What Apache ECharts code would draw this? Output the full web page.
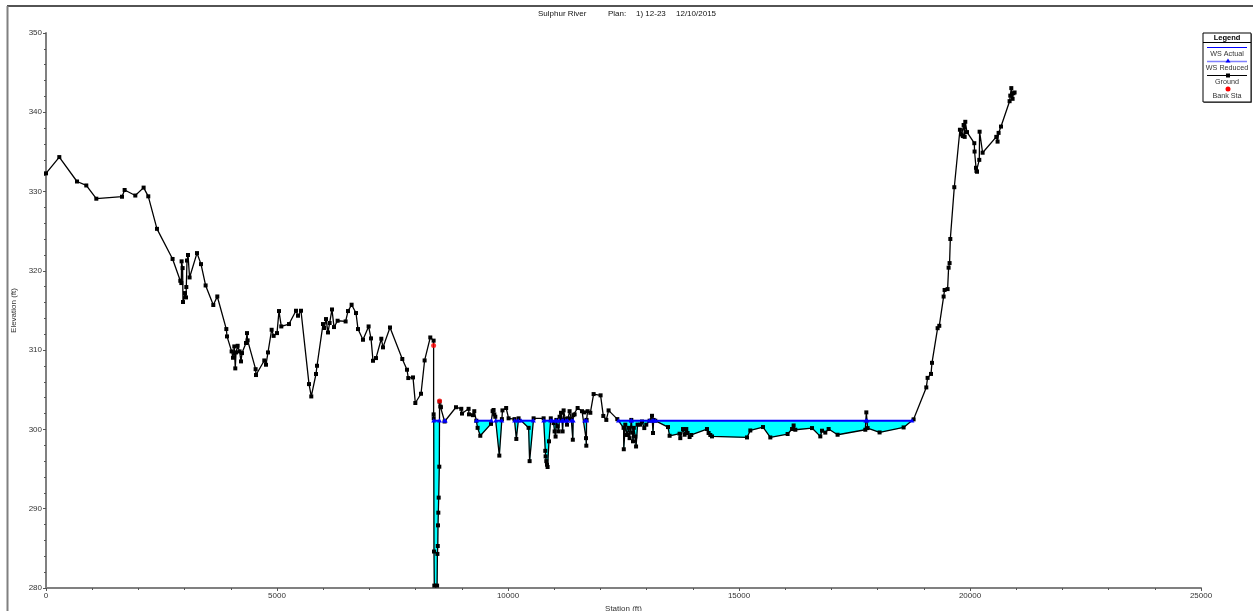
<!DOCTYPE html>
<html>
<head>
<meta charset="utf-8">
<script src="https://cdn.jsdelivr.net/npm/echarts@6/dist/echarts.min.js"></script>
<style>
  html, body { margin: 0; padding: 0; background: #ffffff; }
  #chart { width: 1253px; height: 611px; }
</style>
</head>
<body>
<div id="chart"></div>
<script>
// Cross section: station (ft) and ground elevation (ft)
const groundStation = [
  0, 288, 671, 872, 1089, 1645, 1702, 1933, 2113, 2214,
  2402, 2740, 2907, 2929, 2935, 2957, 2965, 3009, 3030, 3037,
  3052, 3074, 3108, 3268, 3355, 3455, 3621, 3708, 3903, 3918,
  4018, 4048, 4076, 4097, 4113, 4148, 4190, 4221, 4242, 4329,
  4351, 4364, 4537, 4545, 4725, 4762, 4805, 4884, 4927, 5000,
  5043, 5093, 5260, 5411, 5455, 5519, 5693, 5742, 5844, 5866,
  5996, 6024, 6061, 6104, 6139, 6190, 6234, 6312, 6485, 6537,
  6615, 6710, 6753, 6861, 6983, 7035, 7078, 7143, 7258, 7294,
  7446, 7712, 7814, 7842, 7944, 7994, 8117, 8195, 8318, 8390,
  8390, 8392, 8398, 8405, 8465, 8472, 8480, 8485, 8492, 8500,
  8513, 8519, 8535, 8548, 8628, 8874, 8989, 9004, 9147, 9156,
  9242, 9270, 9314, 9342, 9400, 9632, 9667, 9688, 9704, 9725,
  9812, 9868, 9880, 9960, 10013, 10140, 10180, 10229, 10446, 10468,
  10554, 10771, 10807, 10814, 10829, 10844, 10857, 10887, 10926, 10987,
  11009, 11030, 11046, 11074, 11095, 11117, 11147, 11169, 11182, 11204,
  11240, 11277, 11299, 11333, 11370, 11403, 11413, 11442, 11507, 11602,
  11645, 11688, 11695, 11701, 11723, 11782, 11853, 12004, 12063, 12128,
  12177, 12366, 12502, 12506, 12539, 12576, 12610, 12632, 12669, 12690,
  12706, 12723, 12755, 12772, 12805, 12864, 12900, 12950, 12993, 13065,
  13117, 13139, 13152, 13188, 13463, 13498, 13714, 13729, 13788, 13823,
  13859, 13887, 13931, 13967, 14307, 14342, 14379, 14416, 15173, 15245,
  15520, 15678, 16052, 16148, 16182, 16219, 16580, 16760, 16796, 16868,
  16940, 17134, 17734, 17756, 17784, 18043, 18563, 18779, 19054, 19082,
  19156, 19177, 19299, 19335, 19429, 19450, 19515, 19537, 19558, 19574,
  19660, 19782, 19820, 19845, 19862, 19885, 19898, 19935, 20093, 20099,
  20130, 20140, 20152, 20201, 20208, 20273, 20569, 20597, 20619, 20671,
  20857, 20872, 20894, 20922, 20940, 20965
];
const groundElev = [
  332.3, 334.35, 331.27, 330.77, 329.1, 329.35, 330.2, 329.5, 330.5, 329.4,
  325.3, 321.5, 318.75, 318.46, 321.2, 320.35, 316.07, 317.2, 316.65, 317.96,
  321.3, 322.0, 319.17, 322.24, 320.85, 318.16, 315.69, 316.77, 312.66, 311.73,
  309.84, 309.04, 310.47, 307.7, 309.71, 310.55, 309.84, 308.58, 309.63, 310.9,
  312.15, 311.23, 307.6, 306.86, 308.7, 308.16, 309.71, 312.57, 311.8, 312.15,
  314.93, 312.99, 313.29, 314.97, 314.34, 314.97, 305.72, 304.16, 306.99, 308.03,
  313.29, 312.79, 313.92, 312.23, 313.42, 315.13, 312.91, 313.71, 313.62, 314.93,
  315.73, 314.68, 312.66, 311.31, 312.99, 311.48, 308.66, 309.0, 311.44, 310.35,
  312.86, 308.88, 307.53, 306.48, 306.56, 303.33, 304.5, 308.7, 311.6, 311.2,
  301.9, 301.4, 284.6, 280.3, 280.3, 284.3, 285.3, 287.9, 289.5, 291.4,
  295.3, 303.5, 302.9, 302.8, 301.0, 302.8, 302.6, 302.0, 302.6, 301.9,
  301.8, 302.3, 301.1, 300.2, 299.2, 300.7, 302.3, 302.45, 301.9, 301.6,
  296.7, 301.3, 302.4, 302.7, 301.4, 301.3, 298.8, 301.4, 300.2, 296.0,
  301.4, 301.4, 297.3, 296.6, 296.0, 295.55, 295.26, 298.5, 301.4, 300.8,
  299.75, 299.1, 301.2, 300.4, 299.75, 301.6, 302.1, 301.2, 299.75, 302.4,
  301.3, 300.6, 301.4, 302.3, 301.3, 298.7, 301.8, 301.9, 302.7, 302.3,
  302.15, 298.9, 297.95, 301.2, 302.3, 302.1, 304.46, 304.3, 301.7, 301.2,
  302.4, 301.3, 300.2, 297.5, 300.6, 299.3, 300.2, 298.9, 301.2, 299.6,
  298.5, 300.2, 299.1, 297.85, 300.6, 300.6, 301.0, 300.17, 300.6, 301.1,
  301.72, 299.55, 301.2, 301.1, 300.3, 299.2, 299.46, 298.9, 300.05, 299.33,
  300.05, 299.55, 299.04, 299.3, 300.05, 299.55, 299.3, 299.12, 298.99, 299.87,
  300.3, 298.99, 299.42, 300.05, 300.5, 299.96, 300.17, 299.12, 299.84, 299.6,
  300.05, 299.33, 299.96, 302.15, 300.17, 299.62, 300.25, 301.27, 305.3, 306.5,
  307.0, 308.4, 312.77, 313.07, 316.76, 317.59, 317.7, 320.4, 320.98, 324.02,
  330.55, 337.8, 337.2, 337.0, 338.4, 336.9, 338.8, 337.5, 336.1, 335.05,
  333.0, 332.6, 332.5, 334.0, 337.55, 334.9, 336.9, 336.3, 337.4, 338.2,
  341.4, 342.1, 343.05, 341.7, 342.4, 342.5
];

// Water surface elevation (ft)
const wsElevation = 301.1;

// Bank stations
const bankStation = [8390, 8519];
const bankElev = [310.6, 303.6];

// Axis tick values
const stationTicks = [0, 5000, 10000, 15000, 20000, 25000];
const elevationTicks = [280, 290, 300, 310, 320, 330, 340, 350];

// Title pieces and legend labels
const titleParts = ['Sulphur River', 'Plan:', '1) 12-23', '12/10/2015'];
const legendLabels = ['WS Actual', 'WS Reduced', 'Ground', 'Bank Sta'];

// Split the section into wetted reaches: every run of ground below the water
// surface, closed at the interpolated crossings with the water surface.
function wettedReaches(xs, ys, ws) {
  const reaches = [];
  let cur = null;
  for (let i = 0; i < xs.length; i++) {
    const below = ys[i] < ws;
    if (i > 0) {
      const prevBelow = ys[i - 1] < ws;
      if (prevBelow !== below) {
        const t = (ws - ys[i - 1]) / (ys[i] - ys[i - 1]);
        const xc = xs[i - 1] + t * (xs[i] - xs[i - 1]);
        if (below) {
          cur = [[xc, ws]];
        } else {
          cur.push([xc, ws]);
          reaches.push(cur);
          cur = null;
        }
      }
    }
    if (below) {
      if (!cur) cur = [[xs[i], ws]];
      cur.push([xs[i], ys[i]]);
    }
  }
  if (cur) {
    cur.push([xs[xs.length - 1], ws]);
    reaches.push(cur);
  }
  return reaches;
}

const reaches = wettedReaches(groundStation, groundElev, wsElevation);
const reachData = reaches.map((r, i) => [r[0][0], wsElevation, i]);

const FONT = '"Liberation Sans", Arial, sans-serif';
const LABEL_COLOR = '#333333';
const LEGEND_FONT = '7.2px ' + FONT;

// Legend box geometry
const LG = { x: 1203, y: 33, w: 48, h: 69, cx: 1227 };

function legendGraphics() {
  const g = [];
  g.push({ type: 'rect', shape: { x: LG.x + 1, y: LG.y + 1, width: LG.w, height: LG.h },
           style: { fill: '#777777' }, z: 10 });
  g.push({ type: 'rect', shape: { x: LG.x, y: LG.y, width: LG.w, height: LG.h },
           style: { fill: '#ffffff', stroke: '#000000', lineWidth: 1 }, z: 11 });
  g.push({ type: 'text', x: LG.cx, y: LG.y + 5, z: 12,
           style: { text: 'Legend', font: 'bold 7.5px ' + FONT, fill: '#000', align: 'center', verticalAlign: 'middle' } });
  g.push({ type: 'line', shape: { x1: LG.x, y1: LG.y + 9.5, x2: LG.x + LG.w, y2: LG.y + 9.5 },
           style: { stroke: '#000', lineWidth: 1 }, z: 12 });
  // WS Actual
  g.push({ type: 'line', shape: { x1: LG.x + 4, y1: 47.5, x2: LG.x + LG.w - 4, y2: 47.5 },
           style: { stroke: '#0000ff', lineWidth: 1 }, z: 12 });
  g.push({ type: 'text', x: LG.cx, y: 54.5, z: 12,
           style: { text: legendLabels[0], font: LEGEND_FONT, fill: LABEL_COLOR, align: 'center', verticalAlign: 'middle' } });
  // WS Reduced
  g.push({ type: 'line', shape: { x1: LG.x + 4, y1: 61.5, x2: LG.x + LG.w - 4, y2: 61.5 },
           style: { stroke: '#8080ff', lineWidth: 1.5 }, z: 12 });
  g.push({ type: 'polygon', shape: { points: [[LG.cx + 1, 58.5], [LG.cx - 1.5, 62.5], [LG.cx + 3.5, 62.5]] },
           style: { fill: '#0000ff' }, z: 13 });
  g.push({ type: 'text', x: LG.cx, y: 68.5, z: 12,
           style: { text: legendLabels[1], font: LEGEND_FONT, fill: LABEL_COLOR, align: 'center', verticalAlign: 'middle' } });
  // Ground
  g.push({ type: 'line', shape: { x1: LG.x + 4, y1: 75.5, x2: LG.x + LG.w - 4, y2: 75.5 },
           style: { stroke: '#000', lineWidth: 1 }, z: 12 });
  g.push({ type: 'rect', shape: { x: LG.cx - 1, y: 73.5, width: 4, height: 4 },
           style: { fill: '#000' }, z: 13 });
  g.push({ type: 'text', x: LG.cx, y: 82.5, z: 12,
           style: { text: legendLabels[2], font: LEGEND_FONT, fill: LABEL_COLOR, align: 'center', verticalAlign: 'middle' } });
  // Bank Sta
  g.push({ type: 'circle', shape: { cx: LG.cx + 1, cy: 89, r: 2.5 },
           style: { fill: '#ff0000' }, z: 13 });
  g.push({ type: 'text', x: LG.cx, y: 96.5, z: 12,
           style: { text: legendLabels[3], font: LEGEND_FONT, fill: LABEL_COLOR, align: 'center', verticalAlign: 'middle' } });
  return g;
}

// Title words are spread out like the plot header
const titleX = [538, 608, 636, 676];
const titleGraphics = titleParts.map((t, i) => ({
  type: 'text', x: titleX[i], y: 13.5, z: 12,
  style: { text: t, font: '8px ' + FONT, fill: '#111', align: 'left', verticalAlign: 'middle' }
}));

// Page frame lines
const frameGraphics = [
  { type: 'line', shape: { x1: 7, y1: 6, x2: 1253, y2: 6 }, style: { stroke: '#1a1a1a', lineWidth: 1.5 }, z: 12 },
  { type: 'line', shape: { x1: 7.5, y1: 6, x2: 7.5, y2: 611 }, style: { stroke: '#808080', lineWidth: 2 }, z: 12 }
];

const chart = echarts.init(document.getElementById('chart'), null, { renderer: 'canvas' });

const axisCommon = {
  type: 'value',
  nameLocation: 'middle',
  nameTextStyle: { fontSize: 8, color: LABEL_COLOR, fontFamily: FONT },
  axisLine: { show: true, onZero: false, lineStyle: { color: '#808080', width: 2 } },
  axisTick: { show: true, length: 3, lineStyle: { color: '#555555', width: 1 } },
  minorTick: { show: true, splitNumber: 5, length: 2, lineStyle: { color: '#555555', width: 1 } },
  axisLabel: { fontSize: 8, color: LABEL_COLOR, fontFamily: FONT, margin: 4, formatter: v => String(v) },
  splitLine: { show: false },
  minorSplitLine: { show: false }
};

chart.setOption({
  animation: false,
  backgroundColor: '#ffffff',
  grid: { left: 46, right: 52, top: 33, bottom: 23, containLabel: false, outerBoundsMode: 'none' },
  xAxis: Object.assign({}, axisCommon, {
    min: stationTicks[0],
    max: stationTicks[stationTicks.length - 1],
    interval: stationTicks[1] - stationTicks[0],
    name: 'Station (ft)',
    nameGap: 9
  }),
  yAxis: Object.assign({}, axisCommon, {
    min: elevationTicks[0],
    max: elevationTicks[elevationTicks.length - 1],
    interval: elevationTicks[1] - elevationTicks[0],
    name: 'Elevation (ft)',
    nameGap: 28,
    nameRotate: 90
  }),
  graphic: { elements: frameGraphics.concat(titleGraphics, legendGraphics()) },
  series: [
    {
      // water below the surface
      name: 'WS fill',
      type: 'custom',
      coordinateSystem: 'cartesian2d',
      silent: true,
      z: 1,
      encode: { x: 0, y: 1 },
      data: reachData,
      renderItem: function (params, api) {
        const r = reaches[api.value(2)];
        return {
          type: 'polygon',
          shape: { points: r.map(p => api.coord(p)) },
          style: { fill: '#00ffff', stroke: '#00ffff', lineWidth: 0.5 }
        };
      }
    },
    {
      name: 'Ground',
      type: 'line',
      data: groundStation.map((s, i) => [s, groundElev[i]]),
      symbol: 'rect',
      symbolSize: 4,
      showSymbol: true,
      showAllSymbol: true,
      lineStyle: { color: '#000000', width: 1.3 },
      itemStyle: { color: '#000000' },
      silent: true,
      z: 2
    },
    {
      // water surface line over each wetted reach
      name: 'WS Actual',
      type: 'custom',
      coordinateSystem: 'cartesian2d',
      silent: true,
      z: 3,
      encode: { x: 0, y: 1 },
      data: reachData,
      renderItem: function (params, api) {
        const r = reaches[api.value(2)];
        const a = api.coord([r[0][0], wsElevation]);
        const b = api.coord([r[r.length - 1][0], wsElevation]);
        const tri = p => ({
          type: 'polygon',
          shape: { points: [[p[0], p[1] - 2.5], [p[0] - 2.5, p[1] + 1.8], [p[0] + 2.5, p[1] + 1.8]] },
          style: { fill: '#0000ff' }
        });
        return {
          type: 'group',
          children: [
            { type: 'line', shape: { x1: a[0], y1: a[1], x2: b[0], y2: b[1] },
              style: { stroke: '#0000ff', lineWidth: 2 } },
            tri(a), tri(b)
          ]
        };
      }
    },
    {
      name: 'Bank Sta',
      type: 'scatter',
      data: bankStation.map((s, i) => [s, bankElev[i]]),
      symbol: 'circle',
      symbolSize: 5,
      itemStyle: { color: '#ff0000' },
      silent: true,
      z: 4
    }
  ]
});
</script>
</body>
</html>
